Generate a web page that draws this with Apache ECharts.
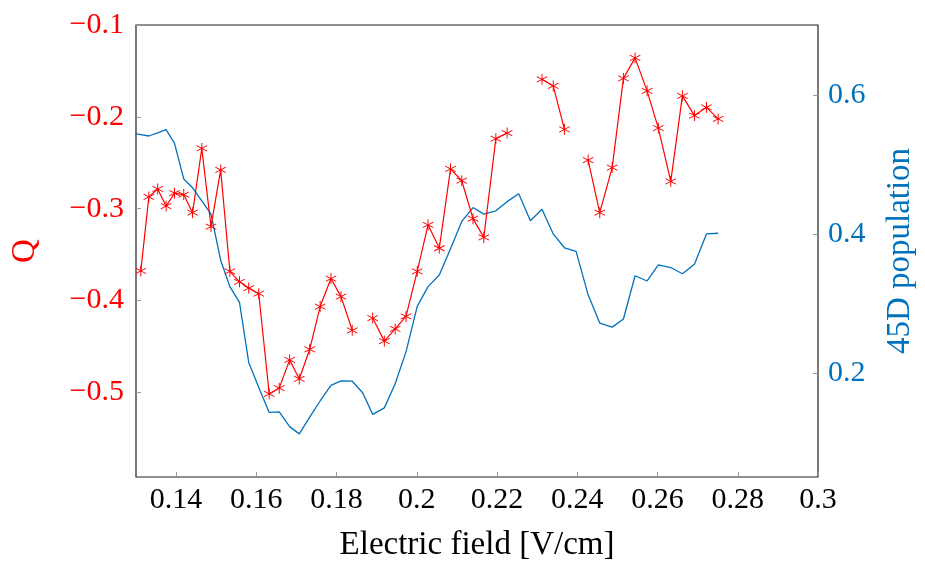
<!DOCTYPE html>
<html>
<head>
<meta charset="utf-8">
<script src="https://cdn.jsdelivr.net/npm/echarts@6/dist/echarts.min.js"></script>
<style>
html,body{margin:0;padding:0;background:#fff;}
#chart{width:925px;height:567px;}
</style>
</head>
<body>
<div id="chart"></div>
<script>
// Electric field values (x)
const xValues = [0.1290,0.1312,0.1332,0.1354,0.1375,0.1396,0.1419,0.1441,0.1464,0.1487,0.1511,
  0.1534,0.1558,0.1581,0.1606,0.1632,0.1657,0.1683,0.1707,0.1733,0.1759,0.1786,0.1811,0.1839,
  0.1865,0.1890,0.1919,0.1946,0.1973,0.2001,0.2028,0.2056,0.2084,0.2112,0.2140,0.2167,0.2197,
  0.2225,0.2254,0.2283,0.2312,0.2340,0.2368,0.2397,0.2427,0.2456,0.2487,0.2515,0.2544,0.2574,
  0.2602,0.2633,0.2662,0.2692,0.2722,0.2751];
// Q (left axis), null = missing
const qValues = [null,-0.3677,-0.2871,-0.2785,-0.2971,-0.2831,-0.2846,-0.3043,-0.2344,-0.3194,-0.2577,
  -0.3681,-0.3796,-0.3864,-0.3925,-0.5014,-0.4953,-0.4645,-0.4853,-0.4530,-0.4065,-0.3760,-0.3957,-0.4323,
  null,-0.4190,-0.4441,-0.4308,-0.4172,-0.3681,-0.3175,-0.3430,-0.2566,-0.2695,-0.3108,-0.3312,-0.2237,
  -0.2176,null,null,-0.1591,-0.1663,-0.2136,null,-0.2470,-0.3043,-0.2552,-0.1581,-0.1358,-0.1717,
  -0.2122,-0.2702,-0.1771,-0.1986,-0.1896,-0.2022];
// 45D population (right axis)
const popValues = [0.5450,0.5430,0.5410,0.5455,0.5502,0.5305,0.4794,0.4667,0.4478,0.4288,0.3627,
  0.3248,0.3021,0.2160,0.1800,0.1443,0.1452,0.1239,0.1135,0.1376,0.1607,0.1830,0.1896,0.1891,
  0.1726,0.1415,0.1508,0.1854,0.2312,0.2965,0.3248,0.3414,0.3791,0.4184,0.4383,0.4288,0.4336,
  0.4468,0.4582,0.4194,0.4359,0.4004,0.3806,0.3755,0.3130,0.2725,0.2667,0.2784,0.3404,0.3329,
  0.3560,0.3522,0.3433,0.3570,0.4004,0.4014];
// tick labels
const xTicks = [0.14,0.16,0.18,0.2,0.22,0.24,0.26,0.28,0.3];
const qTicks = [-0.5,-0.4,-0.3,-0.2,-0.1];
const popTicks = [0.2,0.4,0.6];

const RED = '#ff0000';
const BLUE = '#0072BD';
const FONT = '"Liberation Serif", "DejaVu Serif", serif';
const fmt = v => String(+(+v).toFixed(4)).replace('-', '\u2212');

// six-spoke asterisk marker
const asterisk = 'path://M-0.8,-10L0.8,-10L0.8,10L-0.8,10Z' +
  'M-9.06,-4.307L-8.26,-5.693L9.06,4.307L8.26,5.693Z' +
  'M8.26,-5.693L9.06,-4.307L-8.26,5.693L-9.06,4.307Z';

const qData = xValues.map((x, i) => [x, qValues[i]]);
const popData = xValues.map((x, i) => [x, popValues[i]]);

const tickStyle = {show: true, inside: true, length: 5, lineStyle: {color: '#999', width: 1}};

const chart = echarts.init(document.getElementById('chart'), null, {renderer: 'canvas'});
chart.setOption({
  animation: false,
  backgroundColor: '#fff',
  grid: {left: 136, right: 100, top: 25, bottom: 85, show: true, borderColor: '#222', borderWidth: 1.2, backgroundColor: 'transparent'},
  xAxis: {
    type: 'value', min: 0.13, max: 0.3,
    axisLine: {show: false, onZero: false},
    splitLine: {show: false},
    axisTick: Object.assign({customValues: xTicks}, tickStyle),
    axisLabel: {customValues: xTicks, formatter: fmt, color: '#000', fontFamily: FONT, fontSize: 30, margin: 8},
    name: 'Electric field [V/cm]', nameLocation: 'middle', nameGap: 52,
    nameTextStyle: {color: '#000', fontFamily: FONT, fontSize: 33}
  },
  yAxis: [{
    type: 'value', min: -0.592, max: -0.1, position: 'left',
    axisLine: {show: false, onZero: false},
    splitLine: {show: false},
    axisTick: Object.assign({customValues: qTicks}, tickStyle),
    axisLabel: {customValues: qTicks, formatter: fmt, color: RED, fontFamily: FONT, fontSize: 30, margin: 12},
    name: 'Q', nameLocation: 'middle', nameGap: 94, nameRotate: 90,
    nameTextStyle: {color: RED, fontFamily: FONT, fontSize: 33}
  }, {
    type: 'value', min: 0.0516, max: 0.7003, position: 'right',
    axisLine: {show: false, onZero: false},
    splitLine: {show: false},
    axisTick: Object.assign({customValues: popTicks}, tickStyle),
    axisLabel: {customValues: popTicks, formatter: fmt, color: BLUE, fontFamily: FONT, fontSize: 30, margin: 10},
    name: '45D population', nameLocation: 'middle', nameGap: 66, nameRotate: 90,
    nameTextStyle: {color: BLUE, fontFamily: FONT, fontSize: 33}
  }],
  series: [{
    type: 'line', yAxisIndex: 1, data: popData, symbol: 'none', clip: true,
    lineStyle: {color: BLUE, width: 1.3}, z: 2
  }, {
    type: 'line', yAxisIndex: 0, data: qData, clip: true, connectNulls: false,
    symbol: asterisk, symbolSize: 11, showAllSymbol: true,
    itemStyle: {color: RED},
    lineStyle: {color: RED, width: 1.2}, z: 3
  }]
});
</script>
</body>
</html>
